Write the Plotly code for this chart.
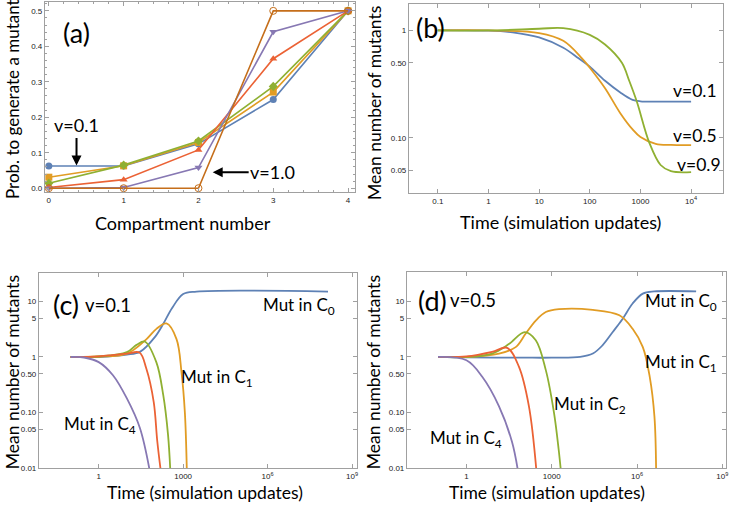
import plotly.graph_objects as go

# Colores por defecto de Mathematica 10
AZUL = "#5E81B5"
NARANJA = "#E19C24"
VERDE = "#8FB032"
ROJO = "#EB6235"
MORADO = "#8778B3"
OCRE = "#C56E1A"

W, H = 733, 507

# ---- (a) probabilidad por compartimento
compartimentos = [0, 1, 2, 3, 4]
prob_v01 = [0.0625, 0.0625, 0.125, 0.25, 0.5]
prob_v03 = [0.031, 0.063, 0.129, 0.271, 0.5]
prob_v05 = [0.014, 0.065, 0.133, 0.287, 0.5]
prob_v07 = [0.002, 0.024, 0.108, 0.365, 0.5]
prob_v09 = [0.0, 0.002, 0.058, 0.441, 0.5]
prob_v10 = [0.0, 0.0, 0.0, 0.5, 0.5]

# ---- (b) media de mutantes vs tiempo
t_b_azul = [0.1, 1, 3, 10, 30, 60, 100, 200, 400, 700, 1000, 3000, 10000]
m_b_azul = [1.0, 0.995, 0.96, 0.86, 0.69, 0.55, 0.46, 0.34, 0.265, 0.226, 0.219, 0.218, 0.218]
t_b_naranja = [0.1, 1, 10, 30, 70, 100, 200, 400, 700, 1000, 2000, 4000, 10000]
m_b_naranja = [1.0, 1.0, 0.945, 0.8, 0.55, 0.45, 0.29, 0.17, 0.12, 0.102, 0.088, 0.086, 0.0857]
t_b_verde = [0.1, 1, 10, 30, 100, 200, 430, 600, 850, 1500, 2500, 4000, 10000]
m_b_verde = [1.0, 1.0, 1.036, 1.05, 0.91, 0.74, 0.5, 0.34, 0.217, 0.09, 0.056, 0.049, 0.048]

# ---- (c) v=0.1, mutante en C0..C4
t_c0 = [0.1, 1, 10, 30, 100, 200, 400, 1000, 3000, 1.4e8]
m_c0 = [1.0, 1.0, 1.1, 1.25, 2.3, 4.0, 7.5, 13.5, 15, 15]
t_c1 = [0.1, 1, 10, 50, 112, 255, 580, 870, 1150, 1350]
m_c1 = [1.0, 1.02, 1.15, 2.1, 3.2, 4.0, 2.1, 0.54, 0.1, 0.009]
t_c2 = [0.1, 1, 10, 22, 43, 112, 195, 290, 350]
m_c2 = [1.0, 1.02, 1.22, 1.65, 1.9, 0.8, 0.21, 0.04, 0.009]
t_c3 = [0.1, 1, 3, 10, 28, 49, 90, 120, 160]
m_c3 = [1.0, 1.03, 1.08, 1.15, 1.2, 0.62, 0.155, 0.031, 0.009]
t_c4 = [0.1, 0.3, 1, 3.2, 10, 29, 65]
m_c4 = [1.0, 0.98, 0.81, 0.47, 0.18, 0.053, 0.009]

# ---- (d) v=0.5, mutante en C0..C4
t_d0 = [0.1, 1, 100, 1000, 1e4, 2.8e4, 6e4, 1.4e5, 3.1e5, 7e5, 1.6e6, 4e6, 1.2e8]
m_d0 = [1.0, 0.98, 0.97, 0.97, 1.0, 1.15, 1.6, 2.8, 4.8, 9.1, 13.7, 15, 15]
t_d1 = [0.1, 1, 14, 54, 120, 275, 620, 1800, 2.8e4, 2.4e5, 7e5, 1.6e6, 2.8e6, 4.1e6, 4.7e6]
m_d1 = [1.0, 1.0, 1.15, 1.5, 2.6, 4.5, 6.4, 7.2, 7.0, 5.6, 3.2, 1.5, 0.44, 0.085, 0.009]
t_d2 = [0.1, 1, 8, 31, 112, 275, 620, 1200, 1750, 2100]
m_d2 = [1.0, 1.0, 1.15, 1.7, 2.8, 2.0, 0.58, 0.1, 0.022, 0.009]
t_d3 = [0.1, 1, 8, 27, 70, 158, 290]
m_d3 = [1.0, 1.02, 1.23, 1.46, 0.67, 0.13, 0.009]
t_d4 = [0.1, 1, 3.6, 14, 40, 65]
m_d4 = [1.0, 0.87, 0.44, 0.13, 0.03, 0.009]


def px(x):
    return x / W


def py(y):
    return 1 - y / H


fig = go.Figure()

marcadores = [
    (prob_v01, AZUL, "circle"),
    (prob_v03, NARANJA, "square"),
    (prob_v05, VERDE, "diamond"),
    (prob_v07, ROJO, "triangle-up"),
    (prob_v09, MORADO, "triangle-down"),
    (prob_v10, OCRE, "circle-open"),
]
for valores, color, simbolo in marcadores:
    fig.add_trace(
        go.Scatter(
            x=compartimentos,
            y=valores,
            mode="lines+markers",
            line={"color": color, "width": 1.6},
            marker={"symbol": simbolo, "size": 7, "color": color},
            xaxis="x",
            yaxis="y",
        )
    )


def curva(t, m, color, eje):
    fig.add_trace(
        go.Scatter(
            x=t,
            y=m,
            mode="lines",
            line={"color": color, "width": 1.8, "shape": "spline", "smoothing": 1.0},
            xaxis="x" + eje,
            yaxis="y" + eje,
        )
    )


curva(t_b_azul, m_b_azul, AZUL, "2")
curva(t_b_naranja, m_b_naranja, NARANJA, "2")
curva(t_b_verde, m_b_verde, VERDE, "2")

for t, m, color in [
    (t_c0, m_c0, AZUL), (t_c1, m_c1, NARANJA), (t_c2, m_c2, VERDE),
    (t_c3, m_c3, ROJO), (t_c4, m_c4, MORADO),
]:
    curva(t, m, color, "3")

for t, m, color in [
    (t_d0, m_d0, AZUL), (t_d1, m_d1, NARANJA), (t_d2, m_d2, VERDE),
    (t_d3, m_d3, ROJO), (t_d4, m_d4, MORADO),
]:
    curva(t, m, color, "4")

MARCO = "#a0a0a0"
FUENTE_TICK = {"family": "Liberation Sans", "size": 8, "color": "#222"}


def eje(dominio, rango, tipo="linear", ancla=None, **extra):
    d = {
        "domain": dominio,
        "range": rango,
        "type": tipo,
        "showline": True,
        "linecolor": MARCO,
        "linewidth": 1,
        "mirror": "ticks",
        "ticks": "inside",
        "ticklen": 4,
        "tickcolor": MARCO,
        "showgrid": False,
        "zeroline": False,
        "tickfont": FUENTE_TICK,
        "anchor": ancla,
    }
    d.update(extra)
    return d


log_y_bajo = {
    "tickvals": [0.01, 0.05, 0.1, 0.5, 1, 5, 10],
    "ticktext": ["0.01", "0.05", "0.10", "0.50", "1", "5", "10"],
}
log_x_bajo = {
    "tickvals": [1, 1000, 1e6, 1e9],
    "ticktext": ["1", "1000", "10<sup>6</sup>", "10<sup>9</sup>"],
}

fig.update_layout(
    width=W,
    height=H,
    margin={"l": 0, "r": 0, "t": 0, "b": 0},
    plot_bgcolor="white",
    paper_bgcolor="white",
    showlegend=False,
    xaxis=eje([px(45), px(356)], [-0.053, 4.093], ancla="y",
              tickvals=[0, 1, 2, 3, 4], minor={"ticks": "inside", "ticklen": 2, "dtick": 0.2, "tickcolor": MARCO}),
    yaxis=eje([py(194), py(2)], [-0.011, 0.525], ancla="x",
              tickvals=[0, 0.1, 0.2, 0.3, 0.4, 0.5],
              ticktext=["0.0", "0.1", "0.2", "0.3", "0.4", "0.5"],
              minor={"ticks": "inside", "ticklen": 2, "dtick": 0.02, "tickcolor": MARCO}),
    xaxis2=eje([px(410), px(725)], [-1.571, 4.63], "log", ancla="y2",
               tickvals=[0.1, 1, 10, 100, 1000, 10000],
               ticktext=["0.1", "1", "10", "100", "1000", "10<sup>4</sup>"]),
    yaxis2=eje([py(195), py(4)], [-1.513, 0.246], "log", ancla="x2",
               tickvals=[0.05, 0.1, 0.5, 1], ticktext=["0.05", "0.10", "0.50", "1"]),
    xaxis3=eje([px(39), px(358)], [-2.126, 9.177], "log", ancla="y3", **log_x_bajo),
    yaxis3=eje([py(473), py(276)], [-2, 1.504], "log", ancla="x3", **log_y_bajo),
    xaxis4=eje([px(408), px(728)], [-2.094, 9.13], "log", ancla="y4", **log_x_bajo),
    yaxis4=eje([py(473), py(275)], [-2, 1.52], "log", ancla="x4", **log_y_bajo),
)

FUENTE = "Lato"


def texto(x, y, s, size=17, angulo=0):
    fig.add_annotation(
        x=px(x), y=py(y), xref="paper", yref="paper", text=s, showarrow=False,
        textangle=angulo, xanchor="center", yanchor="middle",
        font={"family": FUENTE, "size": size, "color": "black"},
    )


# etiquetas de panel
texto(77, 33, "(a)", 27)
texto(432, 28, "(b)", 27)
texto(66, 308, "(c)", 27)
texto(108, 308, "v=0.1", 18.5)
texto(434, 303, "(d)", 27)
texto(474, 303, "v=0.5", 18.5)

# títulos de ejes
texto(12, 100, "Prob. to generate a mutant", 17, -90)
texto(183, 225, "Compartment number", 18)
texto(376, 104, "Mean number of mutants", 17.5, -90)
texto(562, 224, "Time (simulation updates)", 18)
texto(12, 376, "Mean number of mutants", 17.5, -90)
texto(206, 497, "Time (simulation updates)", 17.5)
texto(374, 376, "Mean number of mutants", 17.5, -90)
texto(548, 497, "Time (simulation updates)", 17.5)

# (b) valores de v
texto(697, 91, "v=0.1", 17.5)
texto(697, 137, "v=0.5", 17.5)
texto(701, 166, "v=0.9", 17.5)

# (c)
texto(300, 309, "Mut in C<sub>0</sub>")
texto(218, 382, "Mut in C<sub>1</sub>")
texto(100, 429, "Mut in C<sub>4</sub>")

# (d)
texto(683, 305, "Mut in C<sub>0</sub>")
texto(683, 367, "Mut in C<sub>1</sub>")
texto(592, 409, "Mut in C<sub>2</sub>")
texto(467, 443, "Mut in C<sub>4</sub>")

# flechas del panel (a)
fig.add_annotation(
    x=0.37, y=0.064, xref="x", yref="y", text="v=0.1", showarrow=True,
    ax=0, ay=-40, arrowhead=2, arrowsize=1, arrowwidth=2, arrowcolor="black",
    font={"family": FUENTE, "size": 18, "color": "black"},
)
fig.add_annotation(
    x=2.19, y=0.045, xref="x", yref="y", text="v=1.0", showarrow=True,
    ax=60, ay=0, arrowhead=2, arrowsize=1, arrowwidth=2, arrowcolor="black",
    font={"family": FUENTE, "size": 18, "color": "black"},
)

# sin margen del body para que la figura ocupe la ventana completa
fig.write_html(
    "out.html",
    config={"displayModeBar": False},
    post_script="document.body.style.margin='0px';",
)
